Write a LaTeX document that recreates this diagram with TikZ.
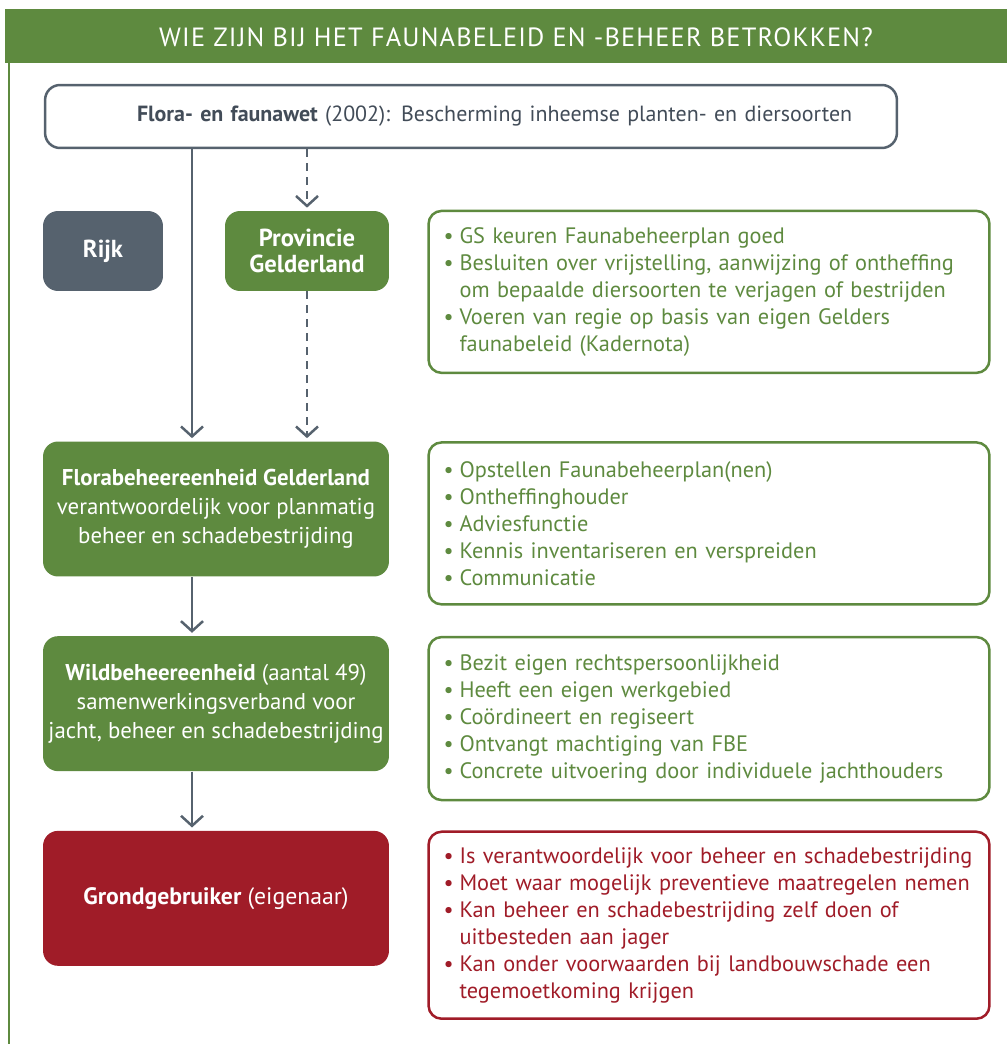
\documentclass[tikz,border=0pt]{standalone}
\usepackage{fontspec}
\setmainfont{PT Sans}
\usetikzlibrary{positioning,arrows.meta}
\definecolor{fgreen}{RGB}{94,138,63}
\definecolor{fgray}{RGB}{86,98,110}
\definecolor{fred}{RGB}{160,28,40}
\definecolor{ftext}{RGB}{66,76,88}
\newcommand{\listfont}{\fontsize{12.7}{15.36}\selectfont}
\newcommand{\boxfont}{\fontsize{13}{16.4}\selectfont}
\newcommand{\bul}{\makebox[0.32cm][l]{\textbullet}}
\newcommand{\nob}{\hspace*{0.32cm}}
\tikzset{
  box/.style={rounded corners=0.3cm, minimum width=6.92cm, minimum height=2.7cm,
    align=center, text=white, inner sep=0pt, font=\boxfont},
  small/.style={rounded corners=0.3cm, minimum height=1.6cm, align=center,
    text=white, inner sep=0pt, font=\fontsize{14}{14.4}\selectfont\bfseries},
  list/.style={draw, line width=0.05cm, rounded corners=0.26cm, anchor=north west,
    text width=10.62cm, inner xsep=0.3cm, inner ysep=0pt, align=left, font=\listfont},
  flow/.style={draw=fgray, line width=0.05cm, shorten >=0.06cm,
    -{Straight Barb[length=0.2cm,width=0.44cm,line width=0.05cm]}},
}
\begin{document}
\begin{tikzpicture}[x=0.02cm,y=-0.02cm]
  \useasboundingbox (0,0) rectangle (1007,1044);
  \fill[fgreen] (5,9) rectangle (1007,63);
  \draw[fgreen, line width=0.06cm] (9,63) -- (9,1044);
  \node[text=white, font=\fontsize{15}{16}\selectfont\addfontfeature{LetterSpace=4.5}] (title) at (516,37)
    {WIE ZIJN BIJ HET FAUNABELEID EN -BEHEER BETROKKEN?};

  \node[draw=fgray, line width=0.05cm, rounded corners=0.3cm, minimum width=17.04cm,
        minimum height=1.26cm, text width=17.04cm, inner sep=0pt, align=left,
        text=ftext, font=\fontsize{12.5}{15}\selectfont] (wet) at (471,116.5)
    {\hspace*{1.84cm}\textbf{Flora- en faunawet} (2002): Bescherming inheemse planten- en diersoorten};

  \node[small, fill=fgray, minimum width=2.4cm] (rijk) at (103,251) {Rijk};
  \node[small, fill=fgreen, minimum width=3.28cm] (prov) at (307,251) {Provincie\\Gelderland};

  \node[box, fill=fgreen] (fbe) at (216,509)
    {\textbf{Florabeheereenheid Gelderland}\\verantwoordelijk voor planmatig\\beheer en schadebestrijding};
  \node[box, fill=fgreen, below=1.18cm of fbe] (wbe)
    {\textbf{Wildbeheereenheid} (aantal 49)\\samenwerkingsverband voor\\jacht, beheer en schadebestrijding};
  \node[box, fill=fred, below=1.18cm of wbe, font=\fontsize{13.5}{16.4}\selectfont] (grond)
    {\textbf{Grondgebruiker} (eigenaar)};

  \node[list, draw=fgreen, text=fgreen, minimum height=3.24cm] (t1) at ([xshift=0.76cm,yshift=0.02cm]prov.north east)
    {\bul GS keuren Faunabeheerplan goed\\
     \bul Besluiten over vrijstelling, aanwijzing of ontheffing\\
     \nob om bepaalde diersoorten te verjagen of bestrijden\\
     \bul Voeren van regie op basis van eigen Gelders\\
     \nob faunabeleid (Kadernota)};
  \node[list, draw=fgreen, text=fgreen, minimum height=3.24cm] (t2) at ([xshift=0.76cm]fbe.north east)
    {\bul Opstellen Faunabeheerplan(nen)\\
     \bul Ontheffinghouder\\
     \bul Adviesfunctie\\
     \bul Kennis inventariseren en verspreiden\\
     \bul Communicatie};
  \node[list, draw=fgreen, text=fgreen, minimum height=3.26cm] (t3) at ([xshift=0.76cm]wbe.north east)
    {\bul Bezit eigen rechtspersoonlijkheid\\
     \bul Heeft een eigen werkgebied\\
     \bul Coördineert en regiseert\\
     \bul Ontvangt machtiging van FBE\\
     \bul Concrete uitvoering door individuele jachthouders};
  \node[list, draw=fred, text=fred, minimum height=3.74cm] (t4) at ([xshift=0.76cm]grond.north east)
    {\bul Is verantwoordelijk voor beheer en schadebestrijding\\
     \bul Moet waar mogelijk preventieve maatregelen nemen\\
     \bul Kan beheer en schadebestrijding zelf doen of\\
     \nob uitbesteden aan jager\\
     \bul Kan onder voorwaarden bij landbouwschade een\\
     \nob tegemoetkoming krijgen};

  \coordinate (s1) at ([xshift=-0.48cm]fbe.north);
  \draw[flow] (s1 |- wet.south) -- (s1);
  \draw[flow, dashed, dash pattern=on 0.16cm off 0.12cm] (wet.south -| prov.north) -- (prov.north);
  \draw[flow, dashed, dash pattern=on 0.16cm off 0.12cm] (prov.south) -- (fbe.north -| prov.south);
  \draw[flow] ([xshift=-0.48cm]fbe.south) -- ([xshift=-0.48cm]wbe.north);
  \draw[flow] ([xshift=-0.48cm]wbe.south) -- ([xshift=-0.48cm]grond.north);
\end{tikzpicture}
\end{document}
